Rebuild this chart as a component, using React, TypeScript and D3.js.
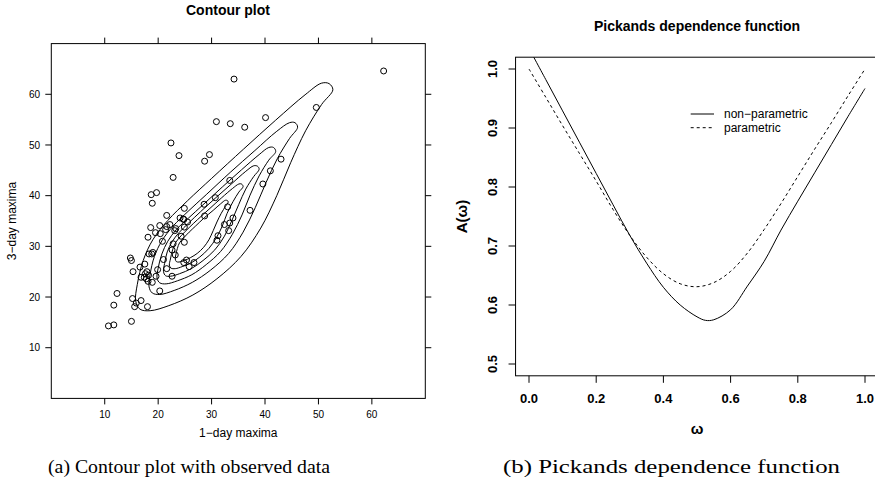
import React from 'react';
import * as d3 from 'd3';

// ---------- Panel (a): observed data ----------
const day1Maxima = [62.2, 34.2, 49.6, 40.1, 30.9, 33.5, 36.2, 22.4, 23.9, 29.6, 28.7, 43.0, 41.0, 22.8, 33.4, 39.6, 30.7, 18.7, 19.7, 18.9, 28.6, 33.0, 37.2, 24.9, 21.6, 28.7, 34.0, 24.1, 24.8, 18.6, 20.3, 18.1, 19.5, 20.4, 21.4, 21.6, 22.2, 23.1, 23.3, 20.8, 22.8, 24.3, 24.9, 23.2, 19.0, 18.8, 18.3, 21.0, 22.6, 14.8, 15.0, 17.5, 16.6, 15.3, 19.9, 21.6, 17.9, 16.8, 17.4, 17.8, 18.2, 18.1, 17.6, 18.9, 19.6, 22.6, 20.3, 12.3, 11.7, 15.2, 16.8, 15.9, 15.6, 18.0, 15.0, 10.7, 11.7, 24.8, 25.3, 25.8, 26.7, 31.0, 31.2, 32.4, 33.2, 33.4, 24.7, 25.5, 24.9];
const day3Maxima = [64.6, 63.0, 57.4, 55.4, 54.6, 54.2, 53.5, 50.4, 47.9, 48.1, 46.8, 47.2, 44.9, 43.6, 43.0, 42.3, 39.6, 40.2, 40.6, 38.5, 38.3, 37.8, 37.1, 37.5, 36.1, 36.0, 35.6, 35.6, 35.3, 33.7, 34.1, 31.8, 32.7, 32.5, 33.3, 33.9, 34.3, 33.1, 33.5, 31.0, 30.5, 32.0, 30.8, 28.3, 28.8, 28.5, 28.5, 27.4, 29.3, 27.7, 27.2, 26.5, 25.9, 25.0, 25.4, 25.6, 25.0, 23.9, 23.9, 23.6, 24.3, 23.1, 24.6, 22.9, 24.1, 24.1, 21.2, 20.7, 18.4, 19.7, 19.3, 18.8, 18.1, 18.1, 15.2, 14.3, 14.5, 26.8, 27.3, 26.0, 26.8, 31.2, 32.1, 34.3, 33.1, 34.6, 35.4, 34.8, 33.8];

// contour lines (1-day, 3-day), outermost first
const contour1 = [[52.7, 60.9], [52.0, 62.1], [50.6, 62.2], [47.5, 59.9], [42.0, 54.9], [36.0, 49.2], [30.0, 43.4], [25.5, 39.0], [21.8, 35.1], [19.0, 31.3], [17.2, 27.2], [16.1, 22.5], [15.8, 19.2], [16.6, 17.6], [18.5, 17.3], [22.0, 18.3], [26.5, 20.4], [31.0, 23.6], [35.5, 28.0], [39.2, 33.6], [42.2, 40.0], [44.8, 46.5], [47.6, 52.8], [50.6, 58.0]];
const contour2 = [[46.1, 53.5], [45.6, 54.4], [44.6, 54.4], [42.2, 52.7], [38.1, 48.9], [33.5, 44.6], [29.0, 40.2], [25.6, 36.9], [22.8, 34.0], [20.7, 31.1], [19.3, 28.0], [18.5, 24.5], [18.3, 22.0], [18.9, 20.8], [20.3, 20.5], [23.0, 21.3], [26.4, 22.9], [29.8, 25.3], [33.2, 28.6], [35.9, 32.8], [38.2, 37.7], [40.2, 42.6], [42.3, 47.3], [44.6, 51.3]];
const contour3 = [[42.0, 48.7], [41.6, 49.5], [40.7, 49.5], [38.9, 48.1], [35.6, 45.1], [32.0, 41.7], [28.4, 38.2], [25.7, 35.6], [23.4, 33.3], [21.8, 31.0], [20.7, 28.5], [20.0, 25.7], [19.8, 23.7], [20.3, 22.8], [21.5, 22.6], [23.6, 23.2], [26.3, 24.4], [29.0, 26.4], [31.7, 29.0], [33.9, 32.4], [35.7, 36.2], [37.2, 40.1], [38.9, 43.9], [40.7, 47.0]];
const contour4 = [[38.9, 45.2], [38.6, 45.8], [37.9, 45.9], [36.4, 44.8], [33.7, 42.3], [30.8, 39.6], [27.9, 36.8], [25.7, 34.6], [23.9, 32.7], [22.6, 30.9], [21.7, 28.9], [21.2, 26.6], [21.0, 25.0], [21.4, 24.2], [22.3, 24.1], [24.0, 24.6], [26.2, 25.6], [28.4, 27.2], [30.6, 29.3], [32.4, 32.0], [33.8, 35.1], [35.1, 38.3], [36.4, 41.3], [37.9, 43.8]];
const contour5 = [[35.9, 41.8], [35.6, 42.3], [35.1, 42.3], [33.9, 41.4], [31.9, 39.6], [29.7, 37.5], [27.4, 35.3], [25.8, 33.7], [24.4, 32.2], [23.3, 30.8], [22.7, 29.3], [22.3, 27.5], [22.1, 26.3], [22.4, 25.7], [23.2, 25.6], [24.5, 26.0], [26.1, 26.7], [27.8, 27.9], [29.5, 29.6], [30.9, 31.7], [32.0, 34.0], [32.9, 36.5], [34.0, 38.8], [35.1, 40.7]];
const contour6 = [[33.1, 38.7], [33.0, 39.0], [32.6, 39.1], [31.7, 38.4], [30.3, 37.1], [28.6, 35.6], [27.0, 34.0], [25.8, 32.8], [24.8, 31.7], [24.0, 30.7], [23.6, 29.6], [23.3, 28.3], [23.2, 27.5], [23.4, 27.0], [23.9, 26.9], [24.9, 27.2], [26.1, 27.8], [27.3, 28.6], [28.5, 29.8], [29.5, 31.3], [30.3, 33.1], [31.0, 34.8], [31.8, 36.5], [32.6, 37.9]];
const contourLines = [contour1, contour2, contour3, contour4, contour5, contour6];

const maximaTicks = [10, 20, 30, 40, 50, 60];

// ---------- Panel (b): Pickands dependence function ----------
const npOmega = [0, 0.05, 0.1, 0.15, 0.2, 0.25, 0.3, 0.35, 0.4, 0.45, 0.5, 0.525, 0.55, 0.6, 0.65, 0.7, 0.75, 0.8, 0.85, 0.9, 0.95, 1.0];
const npA = [1.035, 0.982, 0.929, 0.876, 0.823, 0.770, 0.718, 0.671, 0.630, 0.600, 0.580, 0.574, 0.575, 0.592, 0.632, 0.674, 0.727, 0.776, 0.824, 0.872, 0.920, 0.967];
const parOmega = [0, 0.05, 0.1, 0.15, 0.2, 0.25, 0.3, 0.35, 0.4, 0.45, 0.5, 0.55, 0.6, 0.65, 0.7, 0.75, 0.8, 0.85, 0.9, 0.95, 1.0];
const parA = [1.0, 0.952, 0.904, 0.857, 0.810, 0.762, 0.718, 0.681, 0.653, 0.636, 0.631, 0.638, 0.657, 0.688, 0.728, 0.772, 0.818, 0.864, 0.909, 0.955, 1.0];
const omegaTicks = [0, 0.2, 0.4, 0.6, 0.8, 1.0];
const aTicks = [0.5, 0.6, 0.7, 0.8, 0.9, 1.0];
const legendLabels = ['non\u2212parametric', 'parametric'];

const SANS = '"Liberation Sans", Arial, Helvetica, sans-serif';
const SERIF = '"Liberation Serif", "DejaVu Serif", serif';

export default function App() {
  // panel (a) scales
  const xA = d3.scaleLinear().domain([0, 70]).range([51.3, 425.3]);
  const yA = d3.scaleLinear().domain([0, 70]).range([398.4, 43.6]);
  const contourPath = d3
    .line<number[]>()
    .x((d) => xA(d[0]))
    .y((d) => yA(d[1]))
    .curve(d3.curveCatmullRomClosed.alpha(0.5));

  // panel (b) scales
  const xB = d3.scaleLinear().domain([-0.04, 1.04]).range([515.56, 878.44]);
  const yB = d3.scaleLinear().domain([0.48, 1.02]).range([375.8, 57.2]);
  const npLine = d3
    .line<number>()
    .x((_, i) => xB(npOmega[i]))
    .y((d) => yB(d))
    .curve(d3.curveCatmullRom.alpha(0.5));
  const parLine = d3
    .line<number>()
    .x((_, i) => xB(parOmega[i]))
    .y((d) => yB(d))
    .curve(d3.curveCatmullRom.alpha(0.5));

  const aL = xA.range()[0], aR = xA.range()[1];
  const aT = yA.range()[1], aB = yA.range()[0];
  const bL = xB.range()[0], bR = xB.range()[1];
  const bT = yB.range()[1], bB = yB.range()[0];

  return (
    <svg
      width={875}
      height={490}
      viewBox="0 0 875 490"
      style={{ position: 'absolute', left: 0, top: 0, display: 'block', background: '#fff' }}
    >
      <rect x={0} y={0} width={875} height={490} fill="#fff" />
      <defs>
        <clipPath id="clipB">
          <rect x={bL} y={bT} width={bR - bL} height={bB - bT} />
        </clipPath>
        <clipPath id="clipA">
          <rect x={aL} y={aT} width={aR - aL} height={aB - aT} />
        </clipPath>
      </defs>

      {/* ===== Panel (a) ===== */}
      <text x={228} y={14.5} textAnchor="middle" fontFamily={SANS} fontWeight="bold" fontSize={14} fill="#000">
        Contour plot
      </text>
      <rect x={aL} y={aT} width={aR - aL} height={aB - aT} fill="none" stroke="#000" strokeWidth={1} />
      {maximaTicks.map((t) => (
        <g key={'ax' + t}>
          <line x1={xA(t)} x2={xA(t)} y1={aB} y2={aB + 6} stroke="#000" />
          <line x1={xA(t)} x2={xA(t)} y1={aT} y2={aT - 6} stroke="#000" />
          <text x={xA(t)} y={418} textAnchor="middle" fontFamily={SANS} fontSize={10} fill="#000">
            {t}
          </text>
        </g>
      ))}
      {maximaTicks.map((t) => (
        <g key={'ay' + t}>
          <line x1={aL} x2={aL - 6} y1={yA(t)} y2={yA(t)} stroke="#000" />
          <line x1={aR} x2={aR + 6} y1={yA(t)} y2={yA(t)} stroke="#000" />
          <text x={40} y={yA(t) + 3.6} textAnchor="end" fontFamily={SANS} fontSize={10} fill="#000">
            {t}
          </text>
        </g>
      ))}
      <text x={(aL + aR) / 2} y={437} textAnchor="middle" fontFamily={SANS} fontSize={12} fill="#000">
        1{'\u2212'}day maxima
      </text>
      <text
        transform={`translate(16,${(aT + aB) / 2}) rotate(-90)`}
        textAnchor="middle"
        fontFamily={SANS}
        fontSize={12}
        fill="#000"
      >
        3{'\u2212'}day maxima
      </text>
      <g clipPath="url(#clipA)">
        {contourLines.map((c, i) => (
          <path key={'c' + i} d={contourPath(c) || ''} fill="none" stroke="#000" strokeWidth={1} />
        ))}
        {day1Maxima.map((x, i) => (
          <circle key={'p' + i} cx={xA(x)} cy={yA(day3Maxima[i])} r={3} fill="none" stroke="#000" strokeWidth={1} />
        ))}
      </g>

      {/* ===== Panel (b) ===== */}
      <text x={(bL + bR) / 2} y={30.7} textAnchor="middle" fontFamily={SANS} fontWeight="bold" fontSize={14} fill="#000">
        Pickands dependence function
      </text>
      <rect x={bL} y={bT} width={bR - bL} height={bB - bT} fill="none" stroke="#000" strokeWidth={1} />
      {omegaTicks.map((t) => (
        <g key={'bx' + t}>
          <line x1={xB(t)} x2={xB(t)} y1={bB} y2={bB + 7} stroke="#000" />
          <text x={xB(t)} y={402.7} textAnchor="middle" fontFamily={SANS} fontWeight="bold" fontSize={13} fill="#000">
            {t.toFixed(1)}
          </text>
        </g>
      ))}
      {aTicks.map((t) => (
        <g key={'by' + t}>
          <line x1={bL} x2={bL - 7} y1={yB(t)} y2={yB(t)} stroke="#000" />
          <text
            transform={`translate(497,${yB(t)}) rotate(-90)`}
            textAnchor="middle"
            fontFamily={SANS}
            fontWeight="bold"
            fontSize={13}
            fill="#000"
          >
            {t.toFixed(1)}
          </text>
        </g>
      ))}
      <text x={(bL + bR) / 2} y={433.5} textAnchor="middle" fontFamily={SANS} fontWeight="bold" fontSize={15} fill="#000">
        {'\u03c9'}
      </text>
      <text
        transform={`translate(467,${(bT + bB) / 2}) rotate(-90)`}
        textAnchor="middle"
        fontFamily={SANS}
        fontWeight="bold"
        fontSize={15}
        fill="#000"
      >
        A({'\u03c9'})
      </text>
      <g clipPath="url(#clipB)">
        <path d={npLine(npA) || ''} fill="none" stroke="#000" strokeWidth={1} />
        <path d={parLine(parA) || ''} fill="none" stroke="#000" strokeWidth={1} strokeDasharray="3,3" />
      </g>
      {/* legend */}
      {legendLabels.map((lab, i) => (
        <g key={'lg' + i}>
          <line
            x1={690.7}
            x2={714}
            y1={114 + i * 13.7}
            y2={114 + i * 13.7}
            stroke="#000"
            strokeWidth={1}
            strokeDasharray={i === 1 ? '3,3' : undefined}
          />
          <text x={724} y={114 + i * 13.7 + 4.2} fontFamily={SANS} fontSize={12} fill="#000">
            {lab}
          </text>
        </g>
      ))}

      {/* captions */}
      <text x={48} y={473} fontFamily={SERIF} fontSize={18} fill="#000" textLength={282} lengthAdjust="spacingAndGlyphs">
        (a) Contour plot with observed data
      </text>
      <text x={503} y={473} fontFamily={SERIF} fontSize={18} fill="#000" textLength={337} lengthAdjust="spacingAndGlyphs">
        (b) Pickands dependence function
      </text>
    </svg>
  );
}
